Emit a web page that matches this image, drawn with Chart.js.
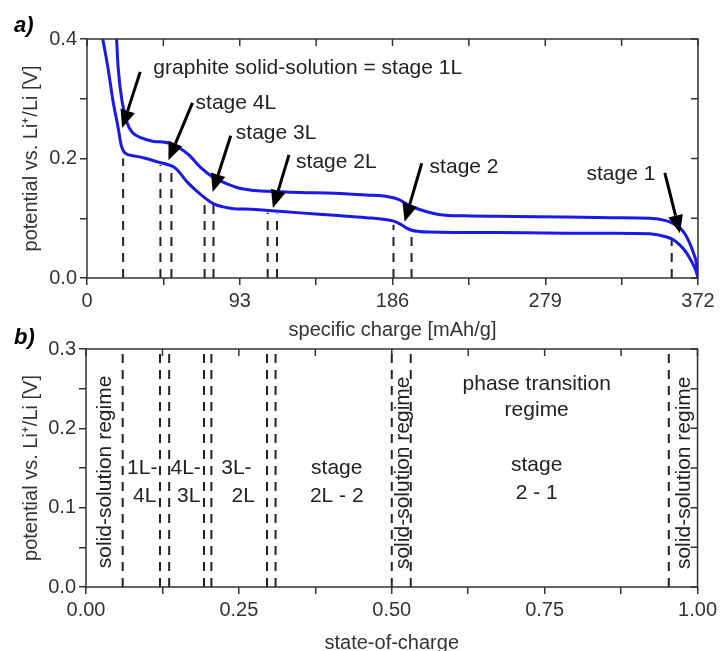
<!DOCTYPE html>
<html>
<head>
<meta charset="utf-8">
<script src="https://cdn.jsdelivr.net/npm/chart.js@4/dist/chart.umd.min.js"></script>
<style>
  html, body { margin: 0; padding: 0; background: #fff; overflow: hidden; }
  #wrap { position: relative; width: 721px; height: 651px; }
  canvas { position: absolute; left: 0; }
</style>
</head>
<body>
<div id="wrap">
  <canvas id="graficoA" width="721" height="348" style="top:0px"></canvas>
  <canvas id="graficoB" width="721" height="331" style="top:320px"></canvas>
</div>
<script>
// curva inferior (mAh/g, V)
const cargaInferior = [9.6, 12.8, 15.9, 19.0, 20.8, 23.2, 29.4, 36, 43.4, 49, 53.8, 61.2, 69.1, 77.1, 83, 89.3, 100, 110, 130, 150.5, 170, 183.5, 188, 191.5, 195, 197.6, 202, 208, 250, 291, 320, 342.6, 352.4, 357, 361, 364, 367, 369.5, 371, 372];
const potencialInferior = [0.4, 0.351, 0.295, 0.251, 0.223, 0.209, 0.204, 0.200, 0.194, 0.190, 0.184, 0.160, 0.140, 0.124, 0.119, 0.116, 0.115, 0.113, 0.109, 0.105, 0.101, 0.097, 0.094, 0.089, 0.083, 0.080, 0.078, 0.077, 0.076, 0.075, 0.075, 0.074, 0.069, 0.064, 0.055, 0.046, 0.033, 0.020, 0.010, 0];

// curva superior
const cargaSuperior = [18.0, 19.0, 21.4, 24.5, 27.5, 33.6, 40, 49.6, 56, 62, 69.1, 77.1, 81.4, 91.8, 100, 110, 130, 150.5, 170, 183.5, 190, 195.8, 202, 208, 215, 230, 260, 291, 320, 342.6, 352.4, 357, 361, 364, 367, 369.5, 371, 372];
const potencialSuperior = [0.4, 0.351, 0.295, 0.259, 0.244, 0.234, 0.229, 0.226, 0.218, 0.206, 0.185, 0.168, 0.162, 0.151, 0.147, 0.145, 0.143, 0.142, 0.139, 0.136, 0.131, 0.122, 0.115, 0.110, 0.106, 0.104, 0.103, 0.102, 0.101, 0.100, 0.096, 0.091, 0.084, 0.074, 0.058, 0.040, 0.025, 0];

// limites entre estagios
const limitesCarga = [22, 44.7, 51.4, 71.6, 77, 110, 115.7, 186.6, 197.6, 356];
const topoLimites = [0.2, 0.189, 0.178, 0.13, 0.122, 0.109, 0.108, 0.089, 0.08, 0.067];
const limitesSoc = [0.06, 0.121, 0.136, 0.193, 0.205, 0.296, 0.31, 0.5, 0.531, 0.953];

// rotulos dos eixos
const ticksCarga = [0, 93, 186, 279, 372];
const ticksPotA = [0, 0.2, 0.4];
const ticksSoc = [0, 0.25, 0.5, 0.75, 1];
const ticksPotB = [0, 0.1, 0.2, 0.3];

// setas: [x cauda, y cauda, x ponta, y ponta]
const setasA = [
  [32.4, 0.345, 21.4, 0.251],
  [64.2, 0.293, 49.6, 0.197],
  [87.5, 0.238, 76.5, 0.144],
  [123, 0.206, 113.2, 0.117],
  [203.8, 0.192, 193.4, 0.094],
  [351.8, 0.176, 361, 0.075]
];
const textosA = [
  { t: 'graphite solid-solution = stage 1L', x: 40.4, y: 0.351, alinhar: 'left' },
  { t: 'stage 4L', x: 66.1, y: 0.293, alinhar: 'left' },
  { t: 'stage 3L', x: 90.6, y: 0.243, alinhar: 'left' },
  { t: 'stage 2L', x: 127.3, y: 0.194, alinhar: 'left' },
  { t: 'stage 2', x: 208.6, y: 0.186, alinhar: 'left' },
  { t: 'stage 1', x: 304.1, y: 0.174, alinhar: 'left' }
];
const textosB = [
  { t: 'solid-solution regime', x: 0.031, y: 0.145, vertical: true },
  { t: '1L-', x: 0.092, y: 0.150 },
  { t: '4L', x: 0.096, y: 0.115 },
  { t: '4L-', x: 0.163, y: 0.150 },
  { t: '3L', x: 0.168, y: 0.115 },
  { t: '3L-', x: 0.246, y: 0.150 },
  { t: '2L', x: 0.257, y: 0.115 },
  { t: 'stage', x: 0.41, y: 0.150 },
  { t: '2L - 2', x: 0.41, y: 0.115 },
  { t: 'solid-solution regime', x: 0.518, y: 0.144, vertical: true },
  { t: 'phase transition', x: 0.737, y: 0.255 },
  { t: 'regime', x: 0.737, y: 0.223 },
  { t: 'stage', x: 0.737, y: 0.153 },
  { t: '2 - 1', x: 0.737, y: 0.118 },
  { t: 'solid-solution regime', x: 0.979, y: 0.144, vertical: true }
];

const FONTE = '"Liberation Sans", Arial, sans-serif';
const CINZA = '#333';
const AZUL = '#1a1ae6';

function desenharSeta(ctx, x0, y0, x1, y1) {
  const ang = Math.atan2(y1 - y0, x1 - x0);
  const cab = 18, larg = 7.5;
  const bx = x1 - cab * Math.cos(ang), by = y1 - cab * Math.sin(ang);
  ctx.strokeStyle = '#000';
  ctx.lineWidth = 3;
  ctx.beginPath();
  ctx.moveTo(x0, y0);
  ctx.lineTo(bx, by);
  ctx.stroke();
  ctx.fillStyle = '#000';
  ctx.beginPath();
  ctx.moveTo(x1, y1);
  ctx.lineTo(bx + larg * Math.sin(ang), by - larg * Math.cos(ang));
  ctx.lineTo(bx - larg * Math.sin(ang), by + larg * Math.cos(ang));
  ctx.closePath();
  ctx.fill();
}

const pluginAnotacoes = {
  id: 'anotacoes',
  afterDatasetsDraw(chart, args, opts) {
    const { ctx, chartArea: a, scales: { x, y } } = chart;
    ctx.save();
    // moldura + ticks internos (topo e direita)
    ctx.strokeStyle = CINZA;
    ctx.lineWidth = 1.5;
    ctx.strokeRect(a.left, a.top, a.right - a.left, a.bottom - a.top);
    ctx.beginPath();
    x.ticks.forEach(t => {
      const px = x.getPixelForValue(t.value);
      ctx.moveTo(px, a.top);
      ctx.lineTo(px, a.top + 7);
    });
    y.ticks.forEach(t => {
      const py = y.getPixelForValue(t.value);
      ctx.moveTo(a.right, py);
      ctx.lineTo(a.right - 7, py);
    });
    ctx.stroke();

    ctx.fillStyle = '#222';
    ctx.font = '21px ' + FONTE;
    ctx.textBaseline = 'middle';
    opts.textos.forEach(tx => {
      ctx.save();
      ctx.translate(x.getPixelForValue(tx.x), y.getPixelForValue(tx.y));
      if (tx.vertical) ctx.rotate(-Math.PI / 2);
      ctx.textAlign = tx.alinhar || 'center';
      ctx.fillText(tx.t, 0, 0);
      ctx.restore();
    });
    opts.setas.forEach(s => desenharSeta(ctx,
      x.getPixelForValue(s[0]), y.getPixelForValue(s[1]),
      x.getPixelForValue(s[2]), y.getPixelForValue(s[3])));

    ctx.fillStyle = '#000';
    ctx.font = 'italic bold 22px ' + FONTE;
    ctx.textAlign = 'left';
    ctx.textBaseline = 'alphabetic';
    ctx.fillText(opts.letra, 14, opts.letraY);
    ctx.restore();
  }
};

function linhaTracejada(x0, y1) {
  return {
    data: [{ x: x0, y: 0 }, { x: x0, y: y1 }],
    borderColor: '#222',
    borderWidth: 2,
    borderDash: [9, 7],
    pointRadius: 0,
    tension: 0
  };
}

function curva(xs, ys) {
  return {
    data: xs.map((v, i) => ({ x: v, y: ys[i] })),
    borderColor: AZUL,
    borderWidth: 3,
    pointRadius: 0,
    cubicInterpolationMode: 'monotone'
  };
}

function eixo(min, max, passo, rotulos, casas, titulo, extra) {
  return Object.assign({
    type: 'linear',
    min: min,
    max: max,
    border: { display: false },
    grid: { drawOnChartArea: false, drawTicks: true, tickLength: 7, color: CINZA, lineWidth: 1.5 },
    ticks: {
      stepSize: passo,
      autoSkip: false,
      maxRotation: 0,
      color: CINZA,
      font: { family: FONTE, size: 20 },
      callback: v => rotulos.some(r => Math.abs(r - v) < 1e-9) ? v.toFixed(casas) : ''
    },
    title: { display: true, text: titulo, color: CINZA }
  }, extra);
}

function criarGrafico(id, datasets, escalas, anot, topo) {
  new Chart(document.getElementById(id), {
    type: 'line',
    data: { datasets: datasets },
    plugins: [pluginAnotacoes],
    options: {
      responsive: false,
      animation: false,
      layout: { padding: { top: topo, right: 23, left: 0, bottom: 0 } },
      plugins: { legend: { display: false }, tooltip: { enabled: false }, anotacoes: anot },
      scales: escalas
    }
  });
}

// a) potencial vs carga especifica
const escalasA = {
  x: eixo(0, 372, 46.5, ticksCarga, 0, 'specific charge [mAh/g]', {
    afterFit: s => { s.height = 70; }
  }),
  y: eixo(0, 0.4, 0.1, ticksPotA, 1, 'potential vs. Li\u207A/Li [V]', {
    afterFit: s => { s.width = 87; }
  })
};
escalasA.x.ticks.padding = 4;
escalasA.x.title.font = { family: FONTE, size: 20 };
escalasA.x.title.padding = { top: 0, bottom: 6 };
escalasA.y.ticks.padding = 3;
escalasA.y.title.font = { family: FONTE, size: 20 };
escalasA.y.title.padding = { top: 19, bottom: 0 };

criarGrafico('graficoA',
  [curva(cargaInferior, potencialInferior), curva(cargaSuperior, potencialSuperior)]
    .concat(limitesCarga.map((c, i) => linhaTracejada(c, topoLimites[i]))),
  escalasA,
  { textos: textosA, setas: setasA, letra: 'a)', letraY: 32 },
  39);

// b) regimes vs estado de carga
const escalasB = {
  x: eixo(0, 1, 0.125, ticksSoc, 2, 'state-of-charge', {
    afterFit: s => { s.height = 64; }
  }),
  y: eixo(0, 0.3, 0.05, ticksPotB, 1, 'potential vs. Li\u207A/Li [V]', {
    afterFit: s => { s.width = 86; }
  })
};
escalasB.x.ticks.padding = 4;
escalasB.x.title.font = { family: FONTE, size: 20, lineHeight: 0.8 };
escalasB.x.title.padding = { top: 0, bottom: 0 };
escalasB.y.ticks.padding = 3;
escalasB.y.title.font = { family: FONTE, size: 20 };
escalasB.y.title.padding = { top: 19, bottom: 0 };

criarGrafico('graficoB',
  limitesSoc.map(s => linhaTracejada(s, 0.3)),
  escalasB,
  { textos: textosB, setas: [], letra: 'b)', letraY: 24 },
  29);
</script>
</body>
</html>
